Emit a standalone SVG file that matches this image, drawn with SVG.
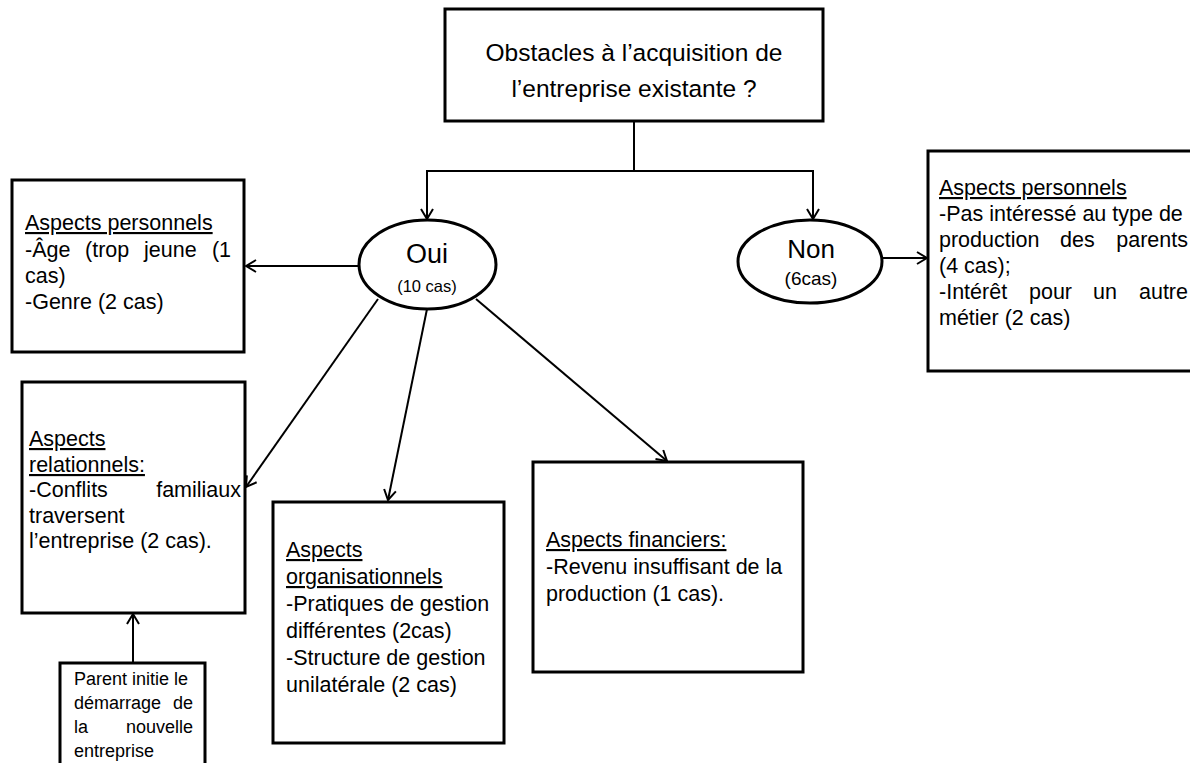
<svg xmlns="http://www.w3.org/2000/svg" width="1190" height="763" viewBox="0 0 1190 763">
<style>
.box{fill:#fff;stroke:#000;stroke-width:3}
.con{fill:none;stroke:#000;stroke-width:2}
text{font-family:"Liberation Sans",Arial,sans-serif;fill:#000}
.b{font-size:21.5px}
.s{font-size:18px}
.u{text-decoration:underline}
.m{text-anchor:middle}
.e{text-anchor:end}
</style>
<defs>
<marker id="arr" viewBox="0 0 12 14" refX="11" refY="7" markerWidth="12" markerHeight="14" orient="auto" markerUnits="userSpaceOnUse">
<path d="M1,1 L11,7 L1,13" fill="none" stroke="#000" stroke-width="2"/>
</marker>
</defs>
<rect width="1190" height="763" fill="#fff"/>
<g id="connectors">
<path class="con" d="M634,121 V171 H427 V219" marker-end="url(#arr)"/>
<path class="con" d="M634,171 H813 V219" marker-end="url(#arr)"/>
<path class="con" d="M359,266 H246" marker-end="url(#arr)"/>
<path class="con" d="M378,299 L246,487" marker-end="url(#arr)"/>
<path class="con" d="M427,309 L388,500" marker-end="url(#arr)"/>
<path class="con" d="M476,299 L667,461" marker-end="url(#arr)"/>
<path class="con" d="M882,258 H927" marker-end="url(#arr)"/>
<path class="con" d="M133,663 V614" marker-end="url(#arr)"/>
</g>
<g id="question">
<rect class="box" x="445" y="9" width="378" height="112"/>
<text class="m" x="634" y="61" font-size="24.5">Obstacles à l’acquisition de</text>
<text class="m" x="634" y="97" font-size="24.5">l’entreprise existante ?</text>
</g>
<g id="oui">
<ellipse class="box" cx="427.5" cy="264.5" rx="68.5" ry="44.5"/>
<text class="m" x="427" y="263" font-size="27">Oui</text>
<text class="m" x="427" y="292" font-size="16.5">(10 cas)</text>
</g>
<g id="non">
<ellipse class="box" cx="810" cy="261.5" rx="72" ry="41.5"/>
<text class="m" x="811" y="258" font-size="26">Non</text>
<text class="m" x="811" y="285" font-size="19">(6cas)</text>
</g>
<g id="personnels-oui">
<rect class="box" x="12" y="180" width="232" height="172"/>
<text class="b u" x="25" y="230">Aspects personnels</text>
<text class="b" y="257"><tspan x="25">-Âge</tspan><tspan x="85">(trop</tspan><tspan x="144">jeune</tspan></text>
<text class="b e" x="231" y="257">(1</text>
<text class="b" x="25" y="283">cas)</text>
<text class="b" x="25" y="309">-Genre (2 cas)</text>
</g>
<g id="personnels-non">
<rect class="box" x="928" y="151" width="300" height="220"/>
<text class="b u" x="939" y="195">Aspects personnels</text>
<text class="b" x="939" y="221">-Pas intéressé au type de</text>
<text class="b" y="247"><tspan x="939">production</tspan><tspan x="1060">des</tspan></text>
<text class="b e" x="1188" y="247">parents</text>
<text class="b" x="939" y="273">(4 cas);</text>
<text class="b" y="299"><tspan x="939">-Intérêt</tspan><tspan x="1029">pour</tspan><tspan x="1093">un</tspan></text>
<text class="b e" x="1188" y="299">autre</text>
<text class="b" x="939" y="325">métier (2 cas)</text>
</g>
<g id="relationnels">
<rect class="box" x="22" y="382" width="223" height="231"/>
<text class="b u" x="29" y="446">Aspects</text>
<text class="b u" x="29" y="472">relationnels:</text>
<text class="b" x="29" y="497">-Conflits</text>
<text class="b e" x="241" y="497">familiaux</text>
<text class="b" x="29" y="523">traversent</text>
<text class="b" x="29" y="548">l’entreprise (2 cas).</text>
</g>
<g id="organisationnels">
<rect class="box" x="273" y="502" width="231" height="241"/>
<text class="b u" x="286" y="557">Aspects</text>
<text class="b u" x="286" y="584">organisationnels</text>
<text class="b" x="286" y="611">-Pratiques de gestion</text>
<text class="b" x="286" y="638">différentes (2cas)</text>
<text class="b" x="286" y="665">-Structure de gestion</text>
<text class="b" x="286" y="692">unilatérale (2 cas)</text>
</g>
<g id="financiers">
<rect class="box" x="533" y="462" width="270" height="210"/>
<text class="b u" x="546" y="547">Aspects financiers:</text>
<text class="b" x="546" y="574">-Revenu insuffisant de la</text>
<text class="b" x="546" y="601">production (1 cas).</text>
</g>
<g id="parent">
<path class="box" d="M60,766 V663 H205 V766"/>
<text class="s" x="74" y="685">Parent initie le</text>
<text class="s" x="74" y="709">démarrage</text>
<text class="s e" x="193" y="709">de</text>
<text class="s" x="74" y="733">la</text>
<text class="s e" x="193" y="733">nouvelle</text>
<text class="s" x="74" y="757">entreprise</text>
</g>
</svg>
